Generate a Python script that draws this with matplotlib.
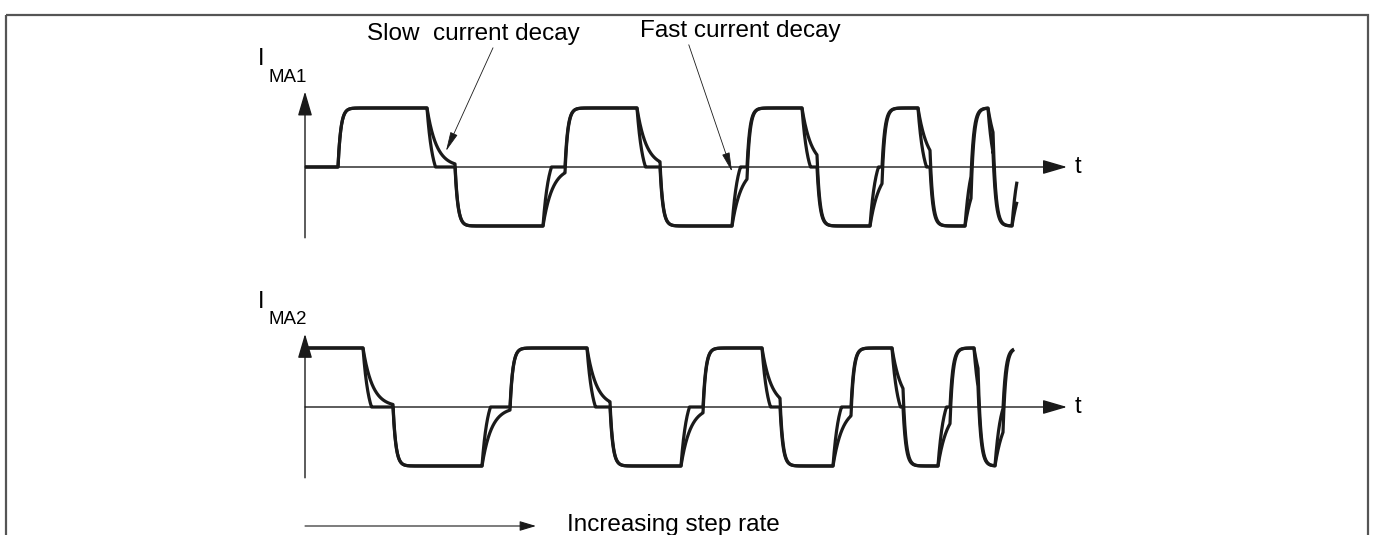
import numpy as np
import matplotlib
matplotlib.use("Agg")
import matplotlib.pyplot as plt
from matplotlib.patches import Rectangle

plt.rcParams['font.family'] = ['Liberation Sans', 'DejaVu Sans']

W, H = 1378, 535

# switching instants (time units) and drive state of each interval (+1, 0 = off, -1)
edges_ma1 = [0, 33, 122, 150, 238, 260, 332, 355, 427, 442, 497, 512,
             565, 577, 613, 625, 660, 666, 683, 688, 707, 712]
drive_ma1 = [0, 1, 0, -1, 0, 1, 0, -1, 0, 1, 0, -1, 0, 1, 0, -1, 0, 1, 0, -1, 0]
start_ma1 = 0.0

edges_ma2 = [0, 58, 88, 177, 205, 282, 305, 376, 398, 457, 475, 528,
             546, 587, 598, 633, 645, 669, 673, 690, 698, 709]
drive_ma2 = [1, 0, -1, 0, 1, 0, -1, 0, 1, 0, -1, 0, 1, 0, -1, 0, 1, 0, -1, 0, 1]
start_ma2 = 1.0

TAU_ON = 2.8      # current build-up when a phase is driven
TAU_SLOW = 9.5    # slow decay (recirculation)
TAU_FAST = 5.8    # fast decay (towards opposite supply, clamped at zero)
FAST_TARGET = 0.3

t_end = 762       # tip of the time axis


def current_trace(edges, drive, start, mode):
    ts, ys = [], []
    i = start
    for k, d in enumerate(drive):
        t0, t1 = edges[k], edges[k + 1]
        tt = np.linspace(t0, t1, 200)
        dt = tt - t0
        if d != 0:
            y = d + (i - d) * np.exp(-dt / TAU_ON)
        elif mode == 'slow':
            y = i * np.exp(-dt / TAU_SLOW)
        else:
            s = np.sign(i)
            tgt = -s * FAST_TARGET
            y = tgt + (i - tgt) * np.exp(-dt / TAU_FAST)
            y = np.maximum(y, 0) if s > 0 else np.minimum(y, 0)
        ts.append(tt)
        ys.append(y)
        i = y[-1]
    return np.concatenate(ts), np.concatenate(ys)


def px_axes(fig, x0, zero_y, unit):
    # axes whose data origin sits at pixel (x0, zero_y), 1 current unit = unit px
    ylo, yhi = -1.6, 1.6
    top = zero_y - yhi * unit
    bottom = zero_y - ylo * unit
    ax = fig.add_axes([x0 / W, 1 - bottom / H, 800 / W, (bottom - top) / H])
    ax.set_xlim(0, 800)
    ax.set_ylim(ylo, yhi)
    ax.axis('off')
    ax.patch.set_alpha(0)
    return ax


fig = plt.figure(figsize=(W / 100, H / 100), dpi=100)
bg = fig.add_axes([0, 0, 1, 1])
bg.set_xlim(0, W)
bg.set_ylim(H, 0)
bg.axis('off')

# outer frame
bg.add_patch(Rectangle((6, 15), 1362, 540, fill=False, ec='#555555', lw=1.6))

ax1 = px_axes(fig, 305, 167, 59)
ax2 = px_axes(fig, 305, 407, 59)

wave_kw = dict(color='#1a1a1a', lw=2.3, solid_capstyle='butt', clip_on=False)
axis_arrow = dict(arrowstyle='-|>,head_length=0.75,head_width=0.22', color='#1a1a1a',
                  lw=1.0, shrinkA=0, shrinkB=0, mutation_scale=20)

for ax, edges, drive, start, ybot, ytop, sub in [
        (ax1, edges_ma1, drive_ma1, start_ma1, -1.2, 1.28, 'MA1'),
        (ax2, edges_ma2, drive_ma2, start_ma2, -1.2, 1.24, 'MA2')]:
    ax.annotate('', xy=(t_end, 0), xytext=(0, 0), arrowprops=axis_arrow,
                annotation_clip=False)
    ax.annotate('', xy=(0, ytop), xytext=(0, ybot), arrowprops=axis_arrow,
                annotation_clip=False)
    ax.text(t_end + 8, 0.0, 't', fontsize=17, ha='left', va='center')
    for mode in ['slow', 'fast']:
        t, y = current_trace(edges, drive, start, mode)
        ax.plot(t, y, **wave_kw)
    ax.text(-47, ytop + 0.36, 'I', fontsize=17, ha='left', va='bottom')
    ax.text(-37, ytop + 0.1, sub, fontsize=13.5, ha='left', va='bottom')

# callouts
thin = dict(arrowstyle='-|>,head_length=0.6,head_width=0.12', color='#1a1a1a',
            lw=0.6, shrinkA=0, shrinkB=0, mutation_scale=20)
ax1.annotate('Slow  current decay', xy=(141, 0.27), xytext=(473, 34),
             textcoords=bg.transData, fontsize=17.5, ha='center', va='center',
             arrowprops=dict(thin, relpos=(0.6, 0)), annotation_clip=False)
ax1.annotate('Fast current decay', xy=(427, -0.08), xytext=(740, 31),
             textcoords=bg.transData, fontsize=17.5, ha='center', va='center',
             arrowprops=dict(thin, relpos=(0.24, 0)), annotation_clip=False)

# step rate arrow
bg.annotate('', xy=(536, 526), xytext=(305, 526),
            arrowprops=dict(arrowstyle='-|>,head_length=0.5,head_width=0.15',
                            color='#1a1a1a', lw=0.8, shrinkA=0, shrinkB=0,
                            mutation_scale=20))
bg.text(567, 525, 'Increasing step rate', fontsize=17.5, ha='left', va='center')

plt.savefig('out.png', dpi=100)
